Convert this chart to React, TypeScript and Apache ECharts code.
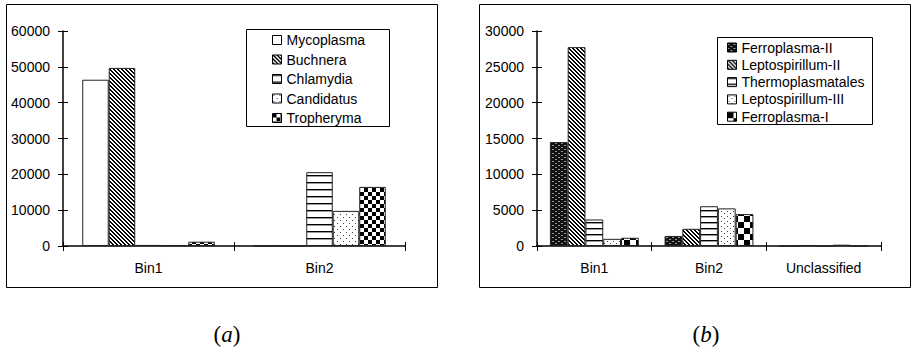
import React, { useEffect, useRef } from "react";
import * as echarts from "echarts";

// ---- data (a) ----
const catsA = ["Bin1", "Bin2"];
const namesA = ["Mycoplasma", "Buchnera", "Chlamydia", "Candidatus", "Tropheryma"];
const mycoplasma = [46400, 120];
const buchnera = [49700, 120];
const chlamydia = [300, 20600];
const candidatus = [250, 9800];
const tropheryma = [1200, 16500];
const ticksA = { min: 0, max: 60000, interval: 10000 };

// ---- data (b) ----
const catsB = ["Bin1", "Bin2", "Unclassified"];
const namesB = ["Ferroplasma-II", "Leptospirillum-II", "Thermoplasmatales", "Leptospirillum-III", "Ferroplasma-I"];
const ferroplasmaII = [14500, 1400, 0];
const leptospirillumII = [27750, 2400, 110];
const thermoplasmatales = [3700, 5550, 0];
const leptospirillumIII = [1000, 5250, 180];
const ferroplasmaI = [1150, 4450, 0];
const ticksB = { min: 0, max: 30000, interval: 5000 };

const FONT = "'Liberation Sans', Arial, sans-serif";

function tile(w: number, h: number, bg: string, fn: (x: number, y: number) => string | null) {
  const c = document.createElement("canvas");
  c.width = w;
  c.height = h;
  const ctx = c.getContext("2d")!;
  ctx.fillStyle = bg;
  ctx.fillRect(0, 0, w, h);
  for (let y = 0; y < h; y++) {
    for (let x = 0; x < w; x++) {
      const col = fn(x, y);
      if (col) {
        ctx.fillStyle = col;
        ctx.fillRect(x, y, 1, 1);
      }
    }
  }
  return { image: c.toDataURL(), repeat: "repeat", imageWidth: w, imageHeight: h } as any;
}

function patterns() {
  const white = "#ffffff";
  const diag = tile(4, 4, white, (x, y) => ((x - y + 8) % 4 < 2 ? "#000" : null));
  const hlinesA = tile(2, 7, white, (x, y) => (y === 0 ? "#000" : y === 1 ? "#999" : null));
  const hlinesB = tile(2, 6, white, (x, y) => (y === 0 ? "#000" : y === 1 ? "#999" : null));
  const dotsA = tile(6, 6, white, (x, y) => ((x === 1 && y === 1) || (x === 4 && y === 4) ? "#444" : null));
  const dotsB = tile(6, 5, white, (x, y) => ((x === 1 && y === 1) || (x === 4 && y === 3) ? "#444" : null));
  const checkA = tile(8, 8, white, (x, y) => ((Math.floor(x / 4) + Math.floor(y / 4)) % 2 === 0 ? "#000" : null));
  const checkB = tile(12, 12, white, (x, y) => ((Math.floor(x / 6) + Math.floor(y / 6)) % 2 === 0 ? "#000" : null));
  const dark = tile(6, 4, "#111", (x, y) =>
    (y === 1 && (x === 0 || x === 1)) || (y === 3 && (x === 3 || x === 4)) ? "#999" : null
  );
  return { white, diag, hlinesA, hlinesB, dotsA, dotsB, checkA, checkB, dark };
}

export default function App() {
  const ref = useRef<HTMLDivElement>(null);
  useEffect(() => {
    if (!ref.current) return;
    const chart = echarts.init(ref.current, undefined, { renderer: "svg" });
    const p = patterns();

    const valuesA = [mycoplasma, buchnera, chlamydia, candidatus, tropheryma];
    const fillsA = [p.white, p.diag, p.hlinesA, p.dotsA, p.checkA];
    const valuesB = [ferroplasmaII, leptospirillumII, thermoplasmatales, leptospirillumIII, ferroplasmaI];
    const fillsB = [p.dark, p.diag, p.hlinesB, p.dotsB, p.checkB];

    const axisText = { color: "#000", fontFamily: FONT, fontSize: 14 };
    const line = { show: true, lineStyle: { color: "#000", width: 1.5 } };

    const yAxes = (gridIndex: number, t: { min: number; max: number; interval: number }) => [
      {
        type: "value",
        gridIndex,
        ...t,
        axisLine: line,
        axisTick: { show: true, length: 5, lineStyle: { color: "#000" } },
        axisLabel: { ...axisText, margin: 13, formatter: (v: number) => String(v) },
        splitLine: { show: false },
      },
      {
        type: "value",
        gridIndex,
        position: "left",
        ...t,
        axisLine: { show: false },
        axisTick: { show: true, inside: true, length: 5, lineStyle: { color: "#000" } },
        axisLabel: { show: false },
        splitLine: { show: false },
      },
    ];
    const xAxes = (gridIndex: number, data: string[]) => [
      {
        type: "category",
        gridIndex,
        data,
        axisLine: line,
        axisTick: { show: true, length: 5, lineStyle: { color: "#000" } },
        axisLabel: { ...axisText, margin: 15 },
      },
      {
        type: "category",
        gridIndex,
        data,
        position: "bottom",
        axisLine: { show: false },
        axisTick: { show: true, inside: true, length: 4, lineStyle: { color: "#000" } },
        axisLabel: { show: false },
      },
    ];

    const mkSeries = (names: string[], vals: number[][], fills: any[], idx: number, gap: string) =>
      names.map((name, i) => ({
        type: "bar",
        name,
        xAxisIndex: idx * 2,
        yAxisIndex: idx * 2,
        data: vals[i],
        barGap: "0%",
        barCategoryGap: gap,
        itemStyle: { color: fills[i], borderColor: "#222", borderWidth: 1 },
        emphasis: { disabled: true },
      }));

    const legendBase = {
      orient: "vertical",
      icon: "rect",
      itemWidth: 9,
      itemHeight: 9,
      padding: 0,
      selectedMode: false,
      itemStyle: { borderColor: "#000", borderWidth: 1 },
      textStyle: { color: "#000", fontFamily: FONT, fontSize: 14, lineHeight: 14 },
    };

    const caption = (letter: string, x: number) => ({
      type: "text",
      x,
      y: 334,
      style: {
        text: `{p|(}{i|${letter}}{p|)}`,
        align: "center",
        verticalAlign: "middle",
        rich: {
          p: { fontFamily: "'Liberation Serif', serif", fontSize: 23, fill: "#000" },
          i: { fontFamily: "'Liberation Serif', serif", fontStyle: "italic", fontSize: 23, fill: "#000" },
        },
      },
    });

    chart.setOption({
      animation: false,
      backgroundColor: "#fff",
      grid: [
        { left: 63, top: 31, width: 342, height: 215 },
        { left: 537, top: 31, width: 344, height: 215 },
      ],
      xAxis: [...xAxes(0, catsA), ...xAxes(1, catsB)],
      yAxis: [...yAxes(0, ticksA), ...yAxes(1, ticksB)],
      legend: [
        { ...legendBase, data: namesA, left: 272, top: 33, itemGap: 5.5 },
        { ...legendBase, data: namesB, left: 727, top: 40.5, itemGap: 3.3 },
      ],
      series: [...mkSeries(namesA, valuesA, fillsA, 0, "22.5%"), ...mkSeries(namesB, valuesB, fillsB, 1, "22.5%")],
      graphic: [
        { type: "rect", shape: { x: 6.5, y: 4.5, width: 431, height: 283 }, style: { fill: "none", stroke: "#000", lineWidth: 1 }, z: -1 },
        { type: "rect", shape: { x: 479.5, y: 4.5, width: 431, height: 283 }, style: { fill: "none", stroke: "#000", lineWidth: 1 }, z: -1 },
        { type: "rect", shape: { x: 246.5, y: 29.5, width: 143, height: 97 }, style: { fill: "none", stroke: "#000", lineWidth: 1 } },
        { type: "rect", shape: { x: 717.5, y: 37.5, width: 155, height: 87 }, style: { fill: "none", stroke: "#000", lineWidth: 1 } },
        caption("a", 227),
        caption("b", 706),
      ],
    });
    return () => chart.dispose();
  }, []);
  return <div ref={ref} style={{ position: "absolute", left: 0, top: 0, width: 912, height: 351 }} />;
}
